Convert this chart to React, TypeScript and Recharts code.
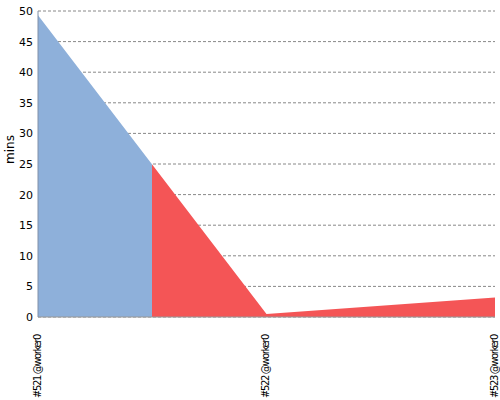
import { Area, AreaChart, CartesianGrid, XAxis, YAxis } from "recharts";

const BUILDS = ["#521 @worker0", "#522 @worker0", "#523 @worker0"];
const DURATIONS = [49.3, 0.5, 3.2];
const Y_TICKS = [0, 5, 10, 15, 20, 25, 30, 35, 40, 45, 50];

const BLUE = "#8eb0da";
const RED = "#f45556";

const data = BUILDS.map((b, i) => ({ build: b, mins: DURATIONS[i] }));

function BuildTick(props: { x?: number; y?: number; payload?: { value: string } }) {
  const { x = 0, y = 0, payload } = props;
  return (
    <g transform={`translate(${x - 1},${y + 12})`}>
      <text
        x={0}
        y={0}
        dy="0.35em"
        transform="rotate(-90)"
        textAnchor="end"
        fontSize={10}
        letterSpacing={-1.4}
        fill="#000"
      >
        {payload?.value}
      </text>
    </g>
  );
}

export default function App() {
  return (
    <div style={{ position: "absolute", left: 0, top: 0, fontFamily: "DejaVu Sans" }}>
      <AreaChart width={500} height={400} data={data} margin={{ top: 11, right: 5, left: 0, bottom: 0 }}>
        <defs>
          {/* colour per build: each point owns half of its neighbouring segments */}
          <linearGradient id="statusFill" x1="0" y1="0" x2="1" y2="0">
            <stop offset="0" stopColor={BLUE} />
            <stop offset="0.25" stopColor={BLUE} />
            <stop offset="0.25" stopColor={RED} />
            <stop offset="1" stopColor={RED} />
          </linearGradient>
        </defs>
        <CartesianGrid vertical={false} strokeDasharray="3 2" stroke="#888" />
        <XAxis
          dataKey="build"
          height={83}
          axisLine={{ stroke: "#999" }}
          tickLine={false}
          tickSize={4}
          interval={0}
          tick={<BuildTick />}
        />
        <YAxis
          width={38}
          domain={[0, 50]}
          ticks={Y_TICKS}
          axisLine={{ stroke: "#8090a8" }}
          tickLine={false}
          tickSize={3}
          tick={{ fontSize: 11, fill: "#000" }}
          label={{ value: "mins", angle: -90, position: "insideLeft", offset: 10, fontSize: 12, fill: "#000" }}
        />
        <Area
          type="linear"
          dataKey="mins"
          stroke="none"
          fill="url(#statusFill)"
          fillOpacity={1}
          isAnimationActive={false}
          dot={false}
          activeDot={false}
        />
      </AreaChart>
    </div>
  );
}
